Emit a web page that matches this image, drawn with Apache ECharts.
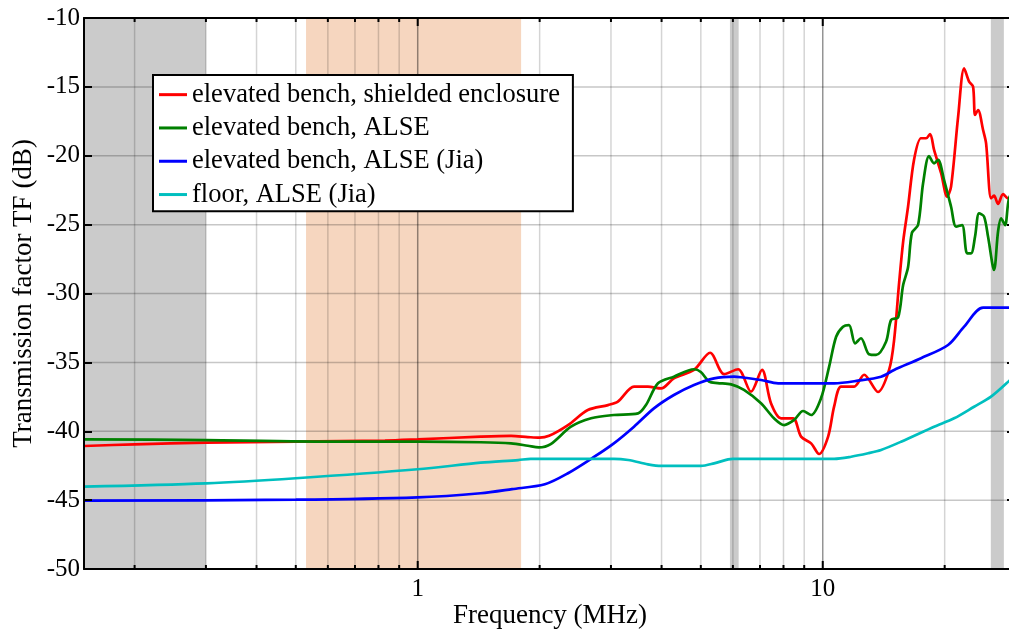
<!DOCTYPE html>
<html>
<head>
<meta charset="utf-8">
<script src="https://cdn.jsdelivr.net/npm/echarts@6/dist/echarts.min.js"></script>
<style>
html,body{margin:0;padding:0;background:#fff;}
#chart{width:1009px;height:631px;}
</style>
</head>
<body>
<div id="chart"></div>
<script>
// ---- data (frequency in MHz, transmission factor in dB) ----
const seriesNames = [
  'elevated bench, shielded enclosure',
  'elevated bench, ALSE',
  'elevated bench, ALSE (Jia)',
  'floor, ALSE (Jia)'
];

const benchShielded = [
  [0.15,-41.07],[0.2,-40.95],[0.3,-40.83],[0.5,-40.75],[0.83,-40.68],[1.0,-40.59],[1.43,-40.39],[1.7,-40.33],
  [1.87,-40.42],[2.0,-40.47],[2.11,-40.33],[2.35,-39.55],[2.63,-38.46],[2.95,-38.1],[3.12,-37.85],[3.42,-36.76],
  [3.7,-36.76],[3.99,-36.89],[4.29,-36.16],[4.81,-35.55],[5.27,-34.3],[5.71,-35.85],[6.18,-35.5],[6.65,-37.13],
  [7.08,-35.55],[7.45,-37.97],[7.89,-39.06],[8.45,-39.06],[8.84,-40.39],[9.36,-40.88],[9.79,-41.65],[10.31,-40.39],
  [10.67,-38.2],[11.1,-36.76],[11.95,-36.76],[12.65,-35.9],[13.69,-37.15],[14.58,-35.55],[15.0,-33.4],[15.44,-29.2],
  [15.8,-26.2],[16.24,-23.7],[16.8,-20.3],[17.48,-18.73],[17.99,-18.73],[18.41,-18.42],[18.83,-19.58],[19.6,-21.27],
  [20.28,-22.97],[20.74,-22.24],[21.59,-17.16],[22.34,-13.65],[22.98,-14.62],[23.5,-14.98],[23.77,-17.04],[24.18,-16.68],
  [24.88,-18.13],[25.31,-19.1],[26.03,-23.09],[26.48,-22.9],[27.09,-23.5],[27.87,-22.78],[28.68,-23.09],[30,-23.0]
];

const benchALSE = [
  [0.15,-40.59],[0.3,-40.64],[0.69,-40.76],[1.0,-40.76],[1.43,-40.8],[1.7,-40.88],[1.87,-41.05],[1.99,-41.17],
  [2.13,-40.93],[2.39,-39.67],[2.68,-39.06],[3.05,-38.82],[3.5,-38.7],[3.66,-38.1],[3.92,-36.52],[4.29,-36.04],
  [4.81,-35.5],[5.0,-35.7],[5.24,-36.4],[5.5,-36.5],[5.94,-36.6],[6.39,-37.0],[7.04,-37.97],[7.58,-39.06],
  [8.03,-39.55],[8.5,-39.18],[8.94,-38.53],[9.36,-38.82],[9.9,-37.61],[10.37,-35.31],[10.79,-33.14],[11.22,-32.41],
  [11.61,-32.29],[12.02,-33.62],[12.43,-33.25],[13.01,-34.41],[13.54,-34.46],[14.33,-33.5],[14.75,-31.92],[15.35,-31.73],
  [15.79,-29.4],[16.24,-28.1],[16.6,-25.6],[17.19,-25.03],[17.69,-22.0],[18.3,-20.02],[18.83,-20.55],[19.27,-20.3],
  [19.93,-21.76],[20.74,-23.7],[21.34,-25.15],[22.08,-25.03],[22.72,-27.08],[23.24,-27.08],[23.77,-25.87],[24.32,-24.18],
  [25.02,-24.42],[25.59,-25.87],[26.48,-28.29],[27.09,-25.5],[27.56,-24.55],[28.19,-25.03],[28.84,-23.09],[30,-22.3]
];

const benchJia = [
  [0.15,-45.04],[0.5,-44.97],[1.0,-44.8],[1.43,-44.5],[1.71,-44.2],[2.06,-43.85],[2.35,-43.05],[2.73,-41.85],
  [3.05,-40.88],[3.42,-39.67],[3.83,-38.34],[4.29,-37.37],[4.81,-36.64],[5.39,-36.16],[6.04,-36.04],[6.28,-36.08],
  [7.04,-36.28],[7.76,-36.52],[8.84,-36.52],[10.67,-36.52],[12.22,-36.33],[13.93,-36.04],[15.0,-35.55],[17.48,-34.7],
  [20.39,-33.74],[22.34,-32.41],[24.88,-31.03],[30,-31.03]
];

const floorJia = [
  [0.15,-44.02],[0.3,-43.78],[0.5,-43.41],[1.0,-42.76],[1.43,-42.28],[1.77,-42.09],[1.9,-42.0],[3.05,-42.0],
  [3.31,-42.09],[3.7,-42.4],[3.99,-42.52],[5.0,-42.52],[5.39,-42.33],[5.84,-42.04],[6.0,-42.0],[10.67,-42.0],
  [11.75,-41.85],[12.94,-41.6],[13.93,-41.36],[15.61,-40.76],[18.83,-39.67],[21.1,-39.06],[23.64,-38.22],[26.03,-37.49],
  [29.01,-36.28],[30,-35.85]
];

// shaded frequency bands (MHz)
const grayBands = [[0.15, 0.3], [5.9, 6.2], [26, 28]];
const orangeBands = [[0.53, 1.8]];

// axis ticks
const xMin = 0.15, xMax = 30;
const yMin = -50, yMax = -10, yStep = 5;
const xGridValues = [0.2,0.3,0.4,0.5,0.6,0.7,0.8,0.9,1,2,3,4,5,6,7,8,9,10,20,30];
const xMajorValues = [1, 10];
const xLabelValues = [1, 10];
const yGridValues = [-45,-40,-35,-30,-25,-20,-15];

// ---- chart ----
const FONT = "'Liberation Serif', 'Times New Roman', serif";
const colors = ['#ff0000', '#008000', '#0000ff', '#00bfbf'];
const chart = echarts.init(document.getElementById('chart'), null, {renderer: 'canvas'});

function bandRender(fill) {
  return function (params, api) {
    const p0 = api.coord([api.value(0), yMax]);
    const p1 = api.coord([api.value(1), yMin]);
    return {type: 'rect', shape: {x: p0[0], y: p0[1], width: p1[0] - p0[0], height: p1[1] - p0[1]},
            style: {fill: fill}};
  };
}

const lineSeries = [benchShielded, benchALSE, benchJia, floorJia].map((d, i) => ({
  name: seriesNames[i], type: 'line', data: d, showSymbol: false, symbol: 'none',
  smooth: 0.3, lineStyle: {color: colors[i], width: 2.7}, itemStyle: {color: colors[i]},
  z: 5 + i, silent: true
}));

const option = {
  animation: false,
  backgroundColor: '#ffffff',
  grid: {left: 84, top: 18, width: 932, height: 551, containLabel: false, outerBoundsMode: 'none', show: false},
  legend: {
    orient: 'vertical', left: 153, top: 75, data: seriesNames, selectedMode: false,
    icon: 'rect', itemWidth: 28, itemHeight: 3, itemGap: 0,
    backgroundColor: '#ffffff', borderColor: '#000000', borderWidth: 2, borderRadius: 0,
    padding: [3, 13, 0, 6],
    textStyle: {fontFamily: FONT, fontSize: 26.5, color: '#000', lineHeight: 33.3},
    z: 30
  },
  xAxis: [{
    type: 'log', logBase: 10, min: xMin, max: xMax, position: 'bottom', z: 10,
    name: 'Frequency (MHz)', nameLocation: 'middle', nameGap: 33, nameMoveOverlap: false,
    nameTextStyle: {fontFamily: FONT, fontSize: 27, color: '#000'},
    axisLine: {show: true, lineStyle: {color: '#000', width: 2}},
    axisTick: {show: false}, splitLine: {show: false}, minorTick: {show: false},
    axisLabel: {
      margin: 8, fontFamily: FONT, fontSize: 25, color: '#000',
      showMinLabel: false, showMaxLabel: false,
      formatter: v => xLabelValues.some(l => Math.abs(l - v) < 1e-6) ? String(Math.round(v)) : ''
    }
  }, {
    type: 'log', logBase: 10, min: xMin, max: xMax, position: 'top', z: 10,
    axisLine: {show: true, lineStyle: {color: '#000', width: 2}},
    axisTick: {show: false}, axisLabel: {show: false}, splitLine: {show: false}
  }],
  yAxis: [{
    type: 'value', min: yMin, max: yMax, interval: yStep, position: 'left', z: 10,
    name: 'Transmission factor TF (dB)', nameLocation: 'middle', nameGap: 47, nameRotate: 90, nameMoveOverlap: false,
    nameTextStyle: {fontFamily: FONT, fontSize: 27, color: '#000'},
    axisLine: {show: true, lineStyle: {color: '#000', width: 2}},
    axisTick: {show: true, inside: true, length: 8, lineStyle: {color: '#000', width: 2}},
    splitLine: {show: false},
    axisLabel: {margin: 4, fontFamily: FONT, fontSize: 25, color: '#000', formatter: v => String(v)}
  }, {
    type: 'value', min: yMin, max: yMax, interval: yStep, position: 'right', z: 10,
    axisLine: {show: true, lineStyle: {color: '#000', width: 2}},
    axisTick: {show: true, inside: true, length: 9, lineStyle: {color: '#000', width: 2}},
    splitLine: {show: false}, axisLabel: {show: false}
  }],
  series: [
    {type: 'custom', name: 'grayBands', data: grayBands, renderItem: bandRender('#cbcbcb'), z: 1, silent: true, clip: true},
    {type: 'custom', name: 'orangeBands', data: orangeBands, renderItem: bandRender('#f6d6bf'), z: 1, silent: true, clip: true},
    {
      type: 'custom', name: 'xGrid', z: 2, silent: true,
      data: xGridValues.map(v => [v, yMin]),
      renderItem: function (params, api) {
        const v = api.value(0);
        const x = api.coord([v, yMin])[0];
        const cs = params.coordSys;
        const major = xMajorValues.indexOf(v) >= 0;
        const tl = major ? 8 : 4;
        return {type: 'group', children: [
          {type: 'line', shape: {x1: x, y1: cs.y, x2: x, y2: cs.y + cs.height},
           style: {stroke: major ? 'rgba(0,0,0,0.42)' : 'rgba(0,0,0,0.17)', lineWidth: 1.5}},
          {type: 'line', shape: {x1: x, y1: cs.y + cs.height, x2: x, y2: cs.y + cs.height - tl},
           style: {stroke: '#000', lineWidth: 2}},
          {type: 'line', shape: {x1: x, y1: cs.y, x2: x, y2: cs.y + tl},
           style: {stroke: '#000', lineWidth: 2}}
        ]};
      }
    },
    {
      type: 'custom', name: 'yGrid', z: 2, silent: true,
      data: yGridValues.map(v => [1, v]),
      renderItem: function (params, api) {
        const y = api.coord([1, api.value(1)])[1];
        const cs = params.coordSys;
        return {type: 'line', shape: {x1: cs.x, y1: y, x2: cs.x + cs.width, y2: y},
                style: {stroke: 'rgba(0,0,0,0.22)', lineWidth: 1.5}};
      }
    }
  ].concat(lineSeries)
};
chart.setOption(option);
</script>
</body>
</html>
